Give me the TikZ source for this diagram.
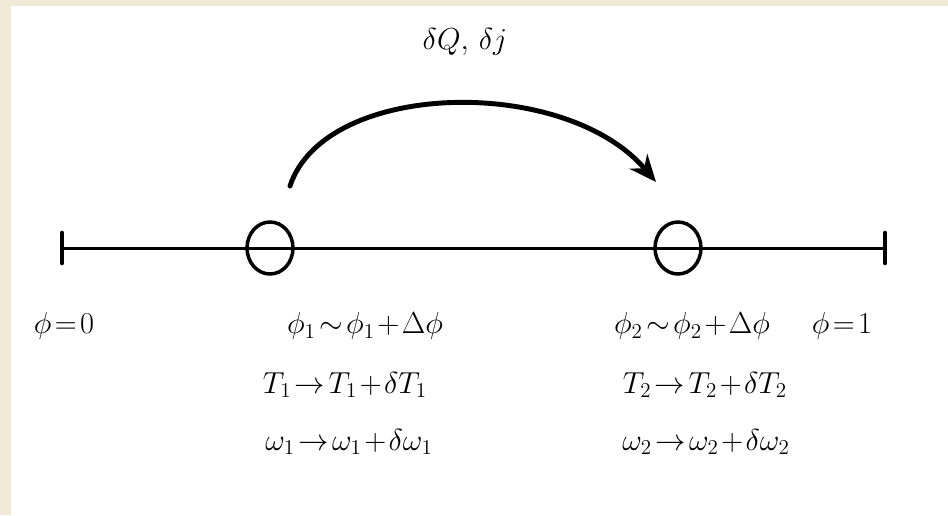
\documentclass[tikz,border=0pt]{standalone}
\usepackage{amsmath,amssymb}
\usepackage{tikz}
\usetikzlibrary{shapes.geometric,arrows.meta,positioning}
\definecolor{paper}{RGB}{242,234,216}

\begin{document}
\begin{tikzpicture}[x=0.02cm,y=-0.02cm,font=\fontsize{18}{21}\selectfont,
 ring/.style={draw,ellipse,line width=2pt,minimum width=0.92cm,minimum height=1.04cm,inner sep=0pt},
 lbl/.style={inner sep=1pt,execute at begin node={\thickmuskip=2mu\medmuskip=1.5mu}}]
\fill[paper](0,0)rectangle(948,515);
\fill[white](11,6)rectangle(948,515);
\useasboundingbox(0,0)rectangle(948,515);
% the segment 0..1
\coordinate(l) at (62,248);\coordinate(r) at (885,248);
\draw[line width=1.7pt](l)--(r);
\draw[line width=2.6pt,line cap=round](l)++(0,-15)--++(0,30);
\draw[line width=2.6pt,line cap=round](r)++(0,-15)--++(0,30);
\node[ring](p1) at (270,248){};
\node[ring](p2) at (678,248){};
% transfer between the two cells
\coordinate(s) at (290,186);\coordinate(e) at (656,182);
\draw[line width=2.8pt,line cap=round,-{Stealth[length=5.4mm,width=4.6mm]}](s)..controls(325,80)and(565,75)..(e);
\node[lbl](dq) at (465,42){$\delta Q,\,\delta j$};
% labels
\node[lbl](f0) at (64,326){$\phi=0$};
\node[lbl](fa) at (365,326){$\phi_1\sim\phi_1+\Delta\phi$};
\node[lbl](fb) at (692,326){$\phi_2\sim\phi_2+\Delta\phi$};
\node[lbl](f1) at (842,326){$\phi=1$};
\node[lbl](ta) at (345,385){$T_1\to T_1+\delta T_1$};
\node[lbl](tb) at (705,385){$T_2\to T_2+\delta T_2$};
\node[lbl](wa) at (349,442){$\omega_1\to\omega_1+\delta\omega_1$};
\node[lbl](wb) at (706,442){$\omega_2\to\omega_2+\delta\omega_2$};
\end{tikzpicture}
\end{document}
